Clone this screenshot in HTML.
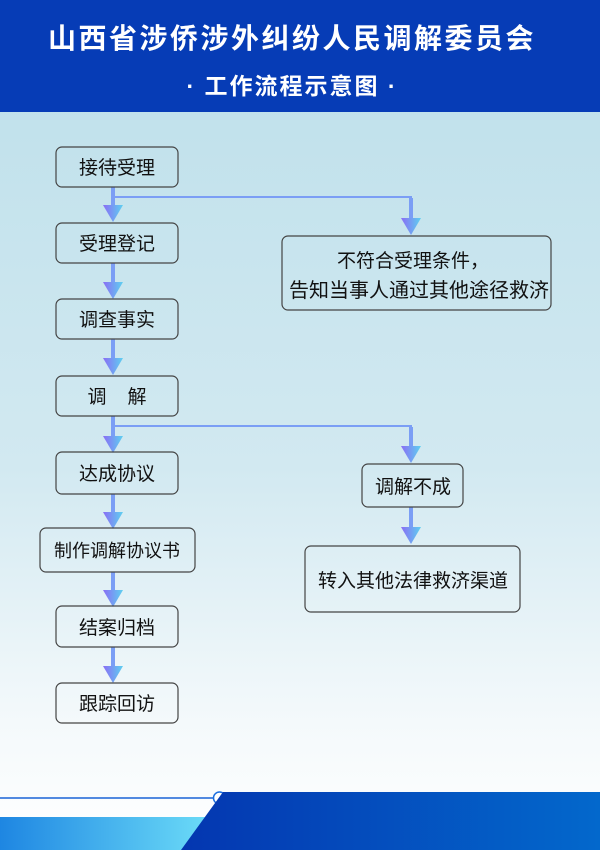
<!DOCTYPE html>
<html><head><meta charset="utf-8"><style>
html,body{margin:0;padding:0;overflow:hidden}
body{width:600px;height:850px;font-family:"Liberation Sans","Noto Sans CJK SC",sans-serif}
svg{display:block}
</style></head><body>
<svg width="600" height="850" xmlns="http://www.w3.org/2000/svg" font-family="Liberation Sans, Noto Sans CJK SC, sans-serif">
<defs>
<linearGradient id="bg" x1="0" y1="0" x2="0" y2="1">
<stop offset="0" stop-color="#bcdfea"/><stop offset="0.55" stop-color="#d2e9f1"/><stop offset="0.85" stop-color="#f4f9fb"/><stop offset="1" stop-color="#ffffff"/>
</linearGradient>
<linearGradient id="ar" x1="0" y1="0" x2="1" y2="0">
<stop offset="0" stop-color="#8a6df5"/><stop offset="1" stop-color="#5ed0f0"/>
</linearGradient>
<linearGradient id="lb" x1="0" y1="0" x2="1" y2="0">
<stop offset="0" stop-color="#1e86e2"/><stop offset="1" stop-color="#6cdcf8"/>
</linearGradient>
<linearGradient id="db" x1="0" y1="0" x2="1" y2="0">
<stop offset="0" stop-color="#0436b0"/><stop offset="1" stop-color="#0368cc"/>
</linearGradient>
<g id="ah"><polygon points="-10,0 10,0 0,17" fill="url(#ar)"/></g>
</defs>
<rect width="600" height="850" fill="url(#bg)"/>
<rect width="600" height="112" fill="#063cb6"/>
<text x="292" y="48" text-anchor="middle" font-size="28" font-weight="bold" fill="#fff" letter-spacing="2.5">山西省涉侨涉外纠纷人民调解委员会</text>
<text x="292" y="94" text-anchor="middle" font-size="23" font-weight="bold" fill="#fff" letter-spacing="2">· 工作流程示意图 ·</text>

<g stroke="#7b9ef5" fill="none">
<line x1="113" y1="187" x2="113" y2="210" stroke-width="4"/>
<line x1="113" y1="263" x2="113" y2="286" stroke-width="4"/>
<line x1="113" y1="339" x2="113" y2="362" stroke-width="4"/>
<line x1="113" y1="416" x2="113" y2="440" stroke-width="4"/>
<line x1="113" y1="494" x2="113" y2="516" stroke-width="4"/>
<line x1="113" y1="572" x2="113" y2="594" stroke-width="4"/>
<line x1="113" y1="647" x2="113" y2="670" stroke-width="4"/>
<polyline points="113,197 411,197 411,222" stroke-width="2"/>
<line x1="411" y1="198" x2="411" y2="222" stroke-width="4"/>
<polyline points="113,426 411,426 411,450" stroke-width="2"/>
<line x1="411" y1="427" x2="411" y2="450" stroke-width="4"/>
<line x1="411" y1="507" x2="411" y2="530" stroke-width="4"/>
</g>
<use href="#ah" x="113" y="205"/>
<use href="#ah" x="113" y="282"/>
<use href="#ah" x="113" y="358"/>
<use href="#ah" x="113" y="436"/>
<use href="#ah" x="113" y="512"/>
<use href="#ah" x="113" y="590"/>
<use href="#ah" x="113" y="666"/>
<use href="#ah" x="411" y="218"/>
<use href="#ah" x="411" y="446"/>
<use href="#ah" x="411" y="527"/>

<g fill="none" stroke="#444" stroke-width="1.2">
<rect x="56" y="147" width="122" height="40" rx="6"/>
<rect x="56" y="223" width="122" height="40" rx="6"/>
<rect x="56" y="299" width="122" height="40" rx="6"/>
<rect x="56" y="376" width="122" height="40" rx="6"/>
<rect x="56" y="452" width="122" height="42" rx="6"/>
<rect x="40" y="528" width="155" height="44" rx="6"/>
<rect x="56" y="606" width="122" height="41" rx="6"/>
<rect x="56" y="683" width="122" height="40" rx="6"/>
<rect x="282" y="236" width="269" height="74" rx="6"/>
<rect x="362" y="464" width="101" height="43" rx="6"/>
<rect x="305" y="546" width="215" height="66" rx="6"/>
</g>
<g font-size="19" fill="#111" text-anchor="middle">
<text x="117" y="174">接待受理</text>
<text x="117" y="250">受理登记</text>
<text x="117" y="326">调查事实</text>
<text x="117" y="403" xml:space="preserve">调    解</text>
<text x="117" y="480">达成协议</text>
<text x="117" y="557" font-size="18">制作调解协议书</text>
<text x="117" y="634">结案归档</text>
<text x="117" y="710">跟踪回访</text>
<text x="413" y="267">不符合受理条件，</text>
<text x="419" y="297" font-size="20">告知当事人通过其他途径救济</text>
<text x="413" y="493">调解不成</text>
<text x="413" y="587">转入其他法律救济渠道</text>
</g>

<line x1="0" y1="798" x2="213" y2="798" stroke="#1a63d6" stroke-width="1.5"/>
<circle cx="219.5" cy="798" r="6" fill="#fff" stroke="#1a6ee0" stroke-width="1.5"/>
<rect x="0" y="817" width="210" height="33" fill="url(#lb)"/>
<polygon points="223,792 600,792 600,850 181,850" fill="url(#db)"/>
</svg>
</body></html>
